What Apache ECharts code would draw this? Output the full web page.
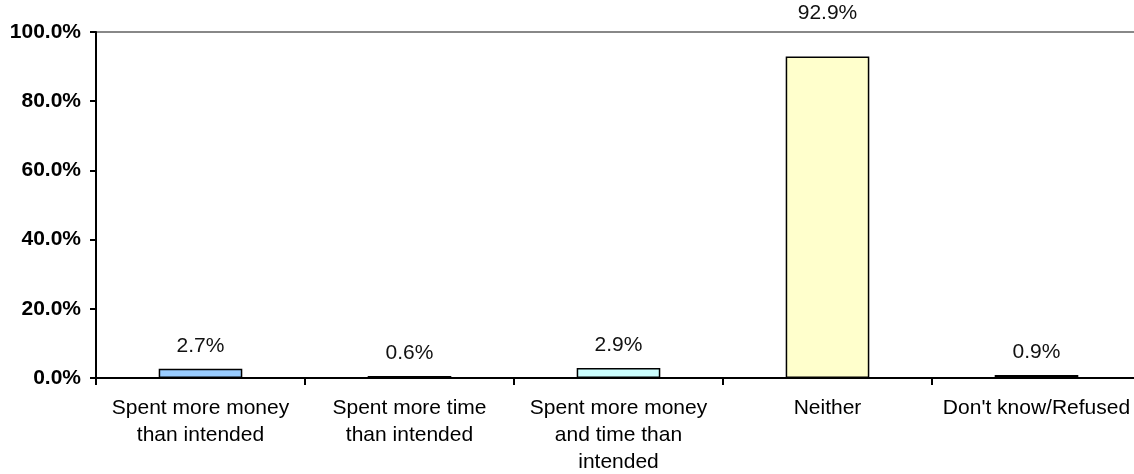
<!DOCTYPE html>
<html>
<head>
<meta charset="utf-8">
<script src="https://cdn.jsdelivr.net/npm/echarts@6/dist/echarts.min.js"></script>
<style>
html, body { margin: 0; padding: 0; background: #fff; }
#chart { width: 1134px; height: 474px; }
</style>
</head>
<body>
<div id="chart"></div>
<script>
var categories = [
    'Spent more money\nthan intended',
    'Spent more time\nthan intended',
    'Spent more money\nand time than\nintended',
    'Neither',
    "Don't know/Refused"
]
var values = [2.7, 0.6, 2.9, 92.9, 0.9]
var yTicks = [0, 20, 40, 60, 80, 100]

// fill colours, one per bar
var barColors = ['#99CCFF', '#993366', '#CCFFFF', '#FFFFCC', '#660066']
// the big bar's label sits above the plot frame
var labelGap = [12, 12, 12, 33, 12]

var font = '"Liberation Sans", Arial, sans-serif'

var chart = echarts.init(document.getElementById('chart'))

var option = {
    animation: false,
    grid: {
        left: 96,
        right: -7,
        top: 32,
        bottom: 96,
        show: true,
        borderColor: '#888888',
        borderWidth: 2,
        outerBoundsMode: 'none'
    },
    xAxis: {
        type: 'category',
        data: categories,
        axisLine: { lineStyle: { color: '#000', width: 2 } },
        axisTick: { show: true, length: 7, lineStyle: { color: '#000', width: 2 } },
        axisLabel: {
            margin: 17,
            interval: 0,
            color: '#000',
            fontFamily: font,
            fontSize: 21,
            lineHeight: 27
        }
    },
    yAxis: {
        type: 'value',
        min: yTicks[0],
        max: yTicks[yTicks.length - 1],
        interval: yTicks[1] - yTicks[0],
        axisLine: { show: true, lineStyle: { color: '#000', width: 2 } },
        axisTick: { show: true, length: 6, lineStyle: { color: '#000', width: 2 } },
        splitLine: { show: false },
        axisLabel: {
            margin: 15,
            color: '#000',
            fontFamily: font,
            fontSize: 21,
            fontWeight: 'bold',
            formatter: function (v) { return v.toFixed(1) + '%' }
        }
    },
    series: [{
        type: 'bar',
        barWidth: '40%',
        data: values.map(function (v, i) {
            return {
                value: v,
                itemStyle: { color: barColors[i] },
                label: { distance: labelGap[i] }
            }
        }),
        itemStyle: { borderColor: '#000', borderWidth: 1.5 },
        label: {
            show: true,
            position: 'top',
            color: '#111',
            fontFamily: font,
            fontSize: 21,
            formatter: function (p) { return p.value.toFixed(1) + '%' }
        }
    }]
}

chart.setOption(option)
</script>
</body>
</html>
